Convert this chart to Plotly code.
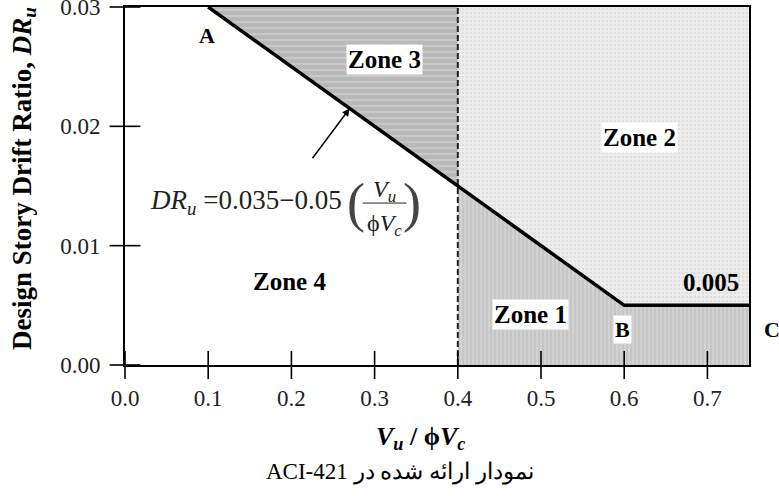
import plotly.graph_objects as go

# Data
limit_x = [0.1, 0.6, 0.75]          # A, B, C
limit_y = [0.03, 0.005, 0.005]
split_x = 0.4                        # dashed vertical line
eq_a, eq_b = 0.035, 0.05
x_ticks = [0.0, 0.1, 0.2, 0.3, 0.4, 0.5, 0.6, 0.7]
x_ticktext = ["0.0", "0.1", "0.2", "0.3", "0.4", "0.5", "0.6", "0.7"]
y_ticks = [0.0, 0.01, 0.02, 0.03]
y_ticktext = ["0.00", "0.01", "0.02", "0.03"]
x_max, y_max = 0.75, 0.03

y_split = eq_a - eq_b * split_x  # 0.015

serif = "Liberation Serif"

fig = go.Figure()

# Zone 2 (above line, right of split)
fig.add_trace(go.Scatter(
    x=[split_x, limit_x[1], limit_x[2], x_max, split_x, split_x],
    y=[y_split, limit_y[1], limit_y[2], y_max, y_max, y_split],
    fill="toself", mode="lines", line=dict(width=0),
    fillcolor="#ececec",
    fillpattern=dict(shape=".", bgcolor="#ededed", fgcolor="#d2d2d2", size=4, solidity=0.35),
    hoverinfo="skip", showlegend=False))

# Zone 3 (above line, left of split)
fig.add_trace(go.Scatter(
    x=[limit_x[0], split_x, split_x, limit_x[0]],
    y=[limit_y[0], y_split, y_max, limit_y[0]],
    fill="toself", mode="lines", line=dict(width=0),
    fillcolor="#bdbdbd",
    fillpattern=dict(shape="-", bgcolor="#b9b9b9", fgcolor="#dadada", size=6, solidity=0.3),
    hoverinfo="skip", showlegend=False))

# Zone 1 (below line, right of split)
fig.add_trace(go.Scatter(
    x=[split_x, split_x, limit_x[1], limit_x[2], x_max, split_x],
    y=[0, y_split, limit_y[1], limit_y[2], 0, 0],
    fill="toself", mode="lines", line=dict(width=0),
    fillcolor="#cccccc",
    fillpattern=dict(shape="|", bgcolor="#d2d2d2", fgcolor="#a9a9a9", size=4, solidity=0.3),
    hoverinfo="skip", showlegend=False))

# Dashed split line
fig.add_trace(go.Scatter(
    x=[split_x, split_x], y=[0, y_max], mode="lines",
    line=dict(color="#222", width=2, dash="6px,3px"),
    hoverinfo="skip", showlegend=False))

# Limit line A-B-C
fig.add_trace(go.Scatter(
    x=limit_x, y=limit_y, mode="lines",
    line=dict(color="black", width=3.5),
    hoverinfo="skip", showlegend=False))

# Crossing tick marks
fig.add_trace(go.Scatter(
    x=x_ticks, y=[0] * len(x_ticks), mode="markers", cliponaxis=False,
    marker=dict(symbol="line-ns", size=20, color="black",
                line=dict(color="black", width=1.6)),
    hoverinfo="skip", showlegend=False))
fig.add_trace(go.Scatter(
    x=[0] * len(y_ticks), y=y_ticks, mode="markers", cliponaxis=False,
    marker=dict(symbol="line-ew", size=22, color="black",
                line=dict(color="black", width=1.6)),
    hoverinfo="skip", showlegend=False))


def label(text, x, y, bg="white", size=25, xref="x", yref="y"):
    fig.add_annotation(x=x, y=y, xref=xref, yref=yref, text="<b>%s</b>" % text,
                       showarrow=False, xanchor="center", yanchor="middle",
                       font=dict(family=serif, size=size, color="black"),
                       bgcolor=bg, borderpad=1)

clear = "rgba(0,0,0,0)"
label("Zone 3", 0.312, 0.0256)
label("Zone 2", 0.618, 0.0191)
label("Zone 4", 0.198, 0.0070)
label("Zone 1", 0.487, 0.0042)
label("0.005", 0.704, 0.0069, bg=clear)
label("A", 0.0984, 0.0276, bg=clear, size=22)
label("B", 0.598, 0.0030, bg="white", size=22)
label("C", 1.037, 0.098, bg=clear, size=22, xref="paper", yref="paper")

# Arrow to line
arrow_x = 0.27
fig.add_annotation(x=arrow_x, y=eq_a - eq_b * arrow_x, ax=0.224, ay=0.0172,
                   axref="x", ayref="y", xref="x", yref="y",
                   showarrow=True, arrowhead=2, arrowsize=1, arrowwidth=1.5,
                   arrowcolor="black", text="")

# Equation
eq_font = dict(family=serif, size=27, color="#222")
fig.add_annotation(x=0.0276, y=0.01366, xanchor="left", yanchor="middle", showarrow=False,
                   text="<i>DR<sub>u</sub></i> =0.035\u22120.05", font=eq_font)
fig.add_annotation(x=0.2776, y=0.0136, showarrow=False, text="(",
                   xanchor="center", yanchor="middle",
                   font=dict(family=serif, size=54, color="#444"))
fig.add_annotation(x=0.3455, y=0.0136, showarrow=False, text=")",
                   xanchor="center", yanchor="middle",
                   font=dict(family=serif, size=54, color="#444"))
fig.add_annotation(x=0.312, y=0.01455, showarrow=False,
                   xanchor="center", yanchor="middle",
                   text="<i>V<sub>u</sub></i>",
                   font=dict(family=serif, size=24, color="#222"))
fig.add_annotation(x=0.312, y=0.0117, showarrow=False,
                   xanchor="center", yanchor="middle",
                   text="\u03d5<i>V<sub>c</sub></i>",
                   font=dict(family=serif, size=24, color="#222"))
fig.add_shape(type="line", x0=0.2856, x1=0.3384, y0=0.01357, y1=0.01357,
              line=dict(color="#222", width=1))

# Titles
fig.add_annotation(xref="paper", yref="paper", x=-0.162, y=0.522,
                   xanchor="center", yanchor="middle",
                   text="<b>Design Story Drift Ratio, <i>DR<sub>u</sub></i></b>",
                   textangle=-90, showarrow=False,
                   font=dict(family=serif, size=27, color="black"))
fig.add_annotation(xref="paper", yref="paper", x=0.473, y=-0.204,
                   xanchor="center", yanchor="middle",
                   text="<b><i>V<sub>u</sub></i> / \u03d5<i>V<sub>c</sub></i></b>",
                   showarrow=False, font=dict(family=serif, size=26, color="black"))
fig.add_annotation(xref="paper", yref="paper", x=0.441, y=-0.299,
                   xanchor="center", yanchor="middle",
                   text="\u202b\u0646\u0645\u0648\u062f\u0627\u0631 \u0627\u0631\u0627\u0626\u0647 \u0634\u062f\u0647 \u062f\u0631 ACI-421\u202c",
                   showarrow=False, font=dict(family=serif, size=23, color="black"))

axis_common = dict(showgrid=False, zeroline=False, showline=True, linecolor="black",
                   linewidth=2, mirror=True, ticks="outside",
                   tickwidth=1, tickcolor="rgba(0,0,0,0)", automargin=False,
                   ticklabeloverflow="allow",
                   tickfont=dict(family=serif, size=23, color="#222"))

fig.update_layout(
    width=779, height=496,
    margin=dict(l=125, r=30, t=7, b=131),
    font=dict(family=serif, size=23, color="#222"),
    plot_bgcolor="white", paper_bgcolor="white",
    xaxis=dict(range=[0, x_max], tickvals=x_ticks, ticktext=x_ticktext,
               ticklen=11, **axis_common),
    yaxis=dict(range=[0, y_max], tickvals=y_ticks, ticktext=y_ticktext,
               ticklen=18, **axis_common),
)

fig.write_html("out.html", config={"displayModeBar": False},
               post_script="document.body.style.margin='0';")
